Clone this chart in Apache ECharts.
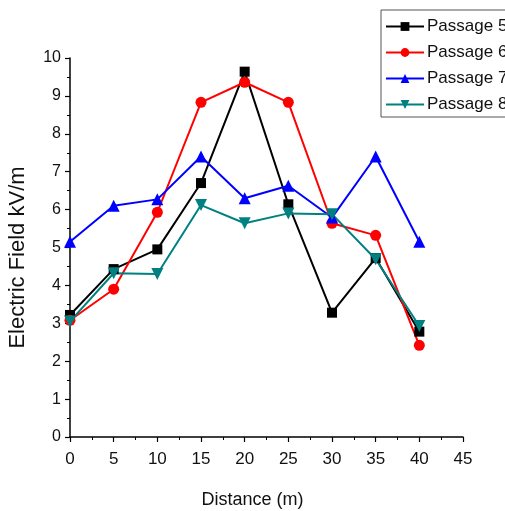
<!DOCTYPE html>
<html>
<head>
<meta charset="utf-8">
<script src="https://cdn.jsdelivr.net/npm/echarts@6/dist/echarts.min.js"></script>
<style>
html,body{margin:0;padding:0;background:#fff;}
#main{width:505px;height:511px;}
</style>
</head>
<body>
<div id="main"></div>
<script>
// distances (m)
var distance = [0, 5, 10, 15, 20, 25, 30, 35, 40];
var passage5 = [3.22, 4.43, 4.95, 6.70, 9.64, 6.14, 3.28, 4.72, 2.78];
var passage6 = [3.08, 3.90, 5.93, 8.83, 9.36, 8.83, 5.64, 5.32, 2.42];
var passage7 = [5.15, 6.10, 6.27, 7.40, 6.30, 6.63, 5.79, 7.40, 5.15];
var passage8 = [3.05, 4.32, 4.30, 6.12, 5.64, 5.90, 5.88, 4.69, 2.93];

function pairs(ys) {
  return distance.map(function (x, i) { return [x, ys[i]]; });
}

var myChart = echarts.init(document.getElementById('main'));
var font = 'Liberation Sans, Arial, sans-serif';

function line(name, ys, color, symbol, size) {
  return {
    name: name,
    type: 'line',
    data: pairs(ys),
    symbol: symbol,
    symbolSize: size,
    showAllSymbol: true,
    lineStyle: { color: color, width: 2 },
    itemStyle: { color: color },
    emphasis: { disabled: true },
    z: 3
  };
}

var option = {
  animation: false,
  grid: { left: 70, top: 58, right: 42, bottom: 74, outerBoundsMode: 'none' },
  legend: {
    orient: 'vertical',
    left: 381,
    top: 10,
    padding: [8, 8, 4, 4],
    itemWidth: 38,
    itemHeight: 11,
    itemGap: 9,
    borderColor: '#555',
    borderWidth: 1,
    textStyle: { fontFamily: font, fontSize: 17, color: '#111', padding: [0, 0, 0, -2] },
    data: ['Passage 5', 'Passage 6', 'Passage 7', 'Passage 8']
  },
  xAxis: {
    type: 'value',
    min: 0, max: 45, interval: 5,
    name: 'Distance (m)',
    nameLocation: 'middle',
    nameGap: 54,
    nameTextStyle: { fontFamily: font, fontSize: 18, color: '#111', padding: [0, 28, 0, 0] },
    axisLine: { lineStyle: { color: '#000', width: 1.5 } },
    axisTick: { inside: false, length: 5, lineStyle: { color: '#000', width: 1.2 } },
    minorTick: { show: true, splitNumber: 2, length: 3, lineStyle: { color: '#000', width: 1 } },
    axisLabel: { fontFamily: font, fontSize: 17, color: '#111', margin: 14 },
    splitLine: { show: false }
  },
  yAxis: {
    type: 'value',
    min: 0, max: 10, interval: 1,
    name: 'Electric Field kV/m',
    nameLocation: 'middle',
    nameGap: 41,
    nameTextStyle: { fontFamily: font, fontSize: 22, color: '#111', padding: [0, 20, 0, 0] },
    axisLine: { show: true, lineStyle: { color: '#000', width: 1.5 } },
    axisTick: { show: true, inside: false, length: 5, lineStyle: { color: '#000', width: 1.2 } },
    minorTick: { show: true, splitNumber: 2, length: 3, lineStyle: { color: '#000', width: 1 } },
    axisLabel: { fontFamily: font, fontSize: 16, color: '#111', margin: 9 },
    splitLine: { show: false }
  },
  series: [
    line('Passage 5', passage5, '#000000', 'rect', 10),
    line('Passage 6', passage6, '#ff0000', 'circle', 11),
    line('Passage 7', passage7, '#0000ff', 'triangle', 12),
    line('Passage 8', passage8, '#008080', 'path://M0,0 L10,0 L5,9 Z', 12)
  ]
};

myChart.setOption(option);
window.addEventListener('resize', function () {
  myChart.resize();
});
</script>
</body>
</html>
